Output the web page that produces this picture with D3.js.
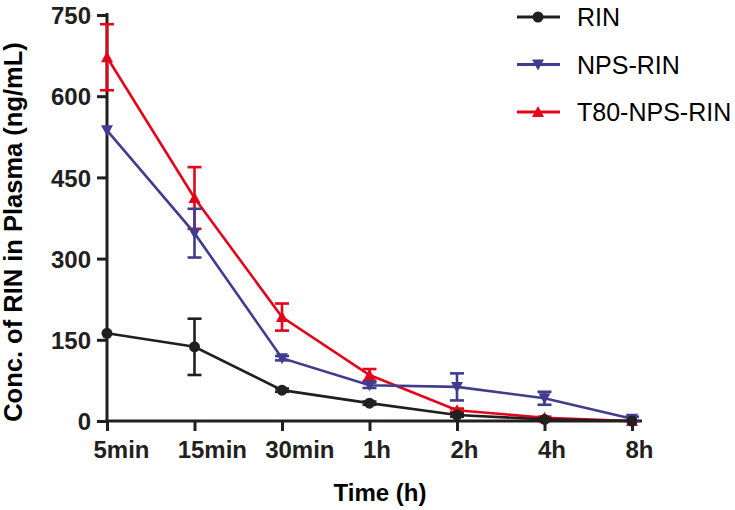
<!DOCTYPE html>
<html>
<head>
<meta charset="utf-8">
<script src="https://d3js.org/d3.v7.min.js"></script>
<style>
  body { margin: 0; background: #fff; }
  text { font-family: "Liberation Sans", Arial, sans-serif; }
</style>
</head>
<body>
<div id="chart"></div>
<script>
// time points and tick labels
var times = ["5min", "15min", "30min", "1h", "2h", "4h", "8h"];
var yTicks = [0, 150, 300, 450, 600, 750];

// mean concentrations (ng/mL)
var rin    = [162, 137, 57, 33, 11, 3, 0];
var rinSd  = [0, 52, 3, 3, 3, 2, 0];
var nps    = [537, 347, 116, 66, 63, 42, 4];
var npsSd  = [0, 45, 4, 5, 25, 12, 4];
var t80    = [672, 412, 192, 85, 20, 6, 0];
var t80Sd  = [61, 57, 25, 11, 3, 2, 0];

var seriesNames = ["RIN", "NPS-RIN", "T80-NPS-RIN"];

var width = 735, height = 510;
var axisColor = "#231f20";

var svg = d3.select("#chart").append("svg")
    .attr("width", width)
    .attr("height", height);

var x = d3.scalePoint().domain(times).range([107, 632]);
var y = d3.scaleLinear().domain([0, 750]).range([421, 15]);

var series = [
  { name: seriesNames[2], values: t80, sd: t80Sd, color: "#e3061a", shape: "up" },
  { name: seriesNames[1], values: nps, sd: npsSd, color: "#403d8f", shape: "down" },
  { name: seriesNames[0], values: rin, sd: rinSd, color: "#231f20", shape: "circle" }
];

function marker(g, shape, color) {
  if (shape == "circle") {
    g.append("circle").attr("r", 5.5).attr("fill", color);
  } else if (shape == "up") {
    g.append("path").attr("d", "M0,-6L6,5L-6,5Z").attr("fill", color);
  } else {
    g.append("path").attr("d", "M0,6L6,-5L-6,-5Z").attr("fill", color);
  }
}

// axes
var yAxis = svg.append("g")
    .attr("transform", "translate(107,0)")
    .call(d3.axisLeft(y).tickValues(yTicks).tickSize(10).tickSizeOuter(0));
var xAxis = svg.append("g")
    .attr("transform", "translate(0,421)")
    .call(d3.axisBottom(x).tickSize(10).tickSizeOuter(0));

[yAxis, xAxis].forEach(function (a) {
  a.select(".domain").remove();
  a.selectAll(".tick line").attr("stroke", axisColor).attr("stroke-width", 3);
  a.selectAll(".tick text")
    .attr("fill", axisColor)
    .style("font-size", "24px")
    .style("font-weight", "bold");
});
yAxis.selectAll(".tick text").attr("x", -16).attr("dy", "0.36em");
// x labels sit a little right of their ticks in the original
xAxis.selectAll(".tick text")
    .attr("y", 20)
    .attr("text-anchor", "start")
    .attr("x", function () { return -this.getComputedTextLength() / 4; });

svg.append("line")
    .attr("x1", 107).attr("x2", 107).attr("y1", 13).attr("y2", 422.5)
    .attr("stroke", axisColor).attr("stroke-width", 3);
svg.append("line")
    .attr("x1", 105.5).attr("x2", 642).attr("y1", 421).attr("y2", 421)
    .attr("stroke", axisColor).attr("stroke-width", 3);

// series
var line = d3.line()
    .x(function (d, i) { return x(times[i]); })
    .y(function (d) { return y(d); });

series.forEach(function (s) {
  var g = svg.append("g");
  g.append("path")
    .datum(s.values)
    .attr("d", line)
    .attr("fill", "none")
    .attr("stroke", s.color)
    .attr("stroke-width", 2.6);

  s.values.forEach(function (v, i) {
    var cx = x(times[i]);
    if (s.sd[i] > 0) {
      var top = y(v + s.sd[i]), bot = y(Math.max(0, v - s.sd[i]));
      g.append("line").attr("x1", cx).attr("x2", cx).attr("y1", top).attr("y2", bot)
        .attr("stroke", s.color).attr("stroke-width", 2.6);
      [top, bot].forEach(function (yy) {
        g.append("line").attr("x1", cx - 7).attr("x2", cx + 7).attr("y1", yy).attr("y2", yy)
          .attr("stroke", s.color).attr("stroke-width", 2.6);
      });
    }
    var m = g.append("g").attr("transform", "translate(" + cx + "," + y(v) + ")");
    marker(m, s.shape, s.color);
  });
});

// axis titles
svg.append("text")
    .attr("transform", "translate(22,232) rotate(-90)")
    .attr("text-anchor", "middle")
    .attr("fill", "#000")
    .style("font-size", "25.5px")
    .style("font-weight", "bold")
    .text("Conc. of RIN in Plasma (ng/mL)");
svg.append("text")
    .attr("x", 380).attr("y", 501)
    .attr("text-anchor", "middle")
    .attr("fill", "#000")
    .style("font-size", "24px")
    .style("font-weight", "bold")
    .text("Time (h)");

// legend
var legendOrder = [series[2], series[1], series[0]];
legendOrder.forEach(function (s, i) {
  var ly = 17 + i * 47.5;
  var lg = svg.append("g").attr("transform", "translate(0," + ly + ")");
  lg.append("line").attr("x1", 517).attr("x2", 560).attr("y1", 0).attr("y2", 0)
    .attr("stroke", s.color).attr("stroke-width", 2.8);
  var m = lg.append("g").attr("transform", "translate(538,0)");
  marker(m, s.shape, s.color);
  lg.append("text")
    .attr("x", 577).attr("y", 0).attr("dy", "0.36em")
    .attr("fill", "#000")
    .style("font-size", "25px")
    .text(s.name);
});
</script>
</body>
</html>
